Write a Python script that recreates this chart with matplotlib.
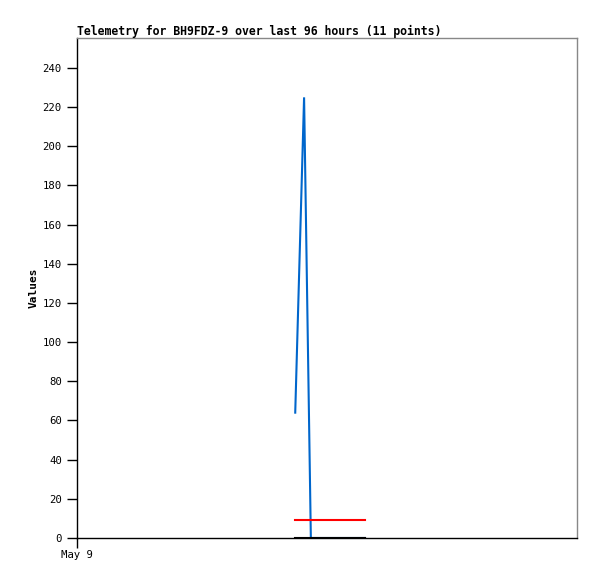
import matplotlib
matplotlib.use("Agg")
import matplotlib.pyplot as plt

# hours since May 9 00:00 (window is 96 hours)
hours = [41.9, 43.6, 44.9, 46.1, 47.3, 48.5, 49.7, 50.9, 52.1, 53.5, 55.3]
blue_vals = [64, 225, 0, 0, 0, 0, 0, 0, 0, 0, 0]
red_vals = [9, 9, 9, 9, 9, 9, 9, 9, 9, 9, 9]
black_vals = [0, 0, 0, 0, 0, 0, 0, 0, 0, 0, 0]

yticks = list(range(0, 241, 20))
xtick_pos = [0]
xtick_labels = ["May 9"]

mono = "DejaVu Sans Mono"

fig = plt.figure(figsize=(5.97, 5.79), dpi=100)
ax = fig.add_axes([77 / 597, 41 / 579, 500 / 597, 500 / 579])

ax.plot(hours, blue_vals, color="#0066cc", linewidth=1.5, solid_joinstyle="miter")
ax.plot(hours, red_vals, color="#ff0000", linewidth=1.5)
ax.plot(hours, black_vals, color="#000000", linewidth=1.5)

ax.set_xlim(0, 96)
ax.set_ylim(0, 255.3)

ax.set_yticks(yticks)
ax.set_yticklabels([str(v) for v in yticks], fontfamily=mono, fontsize=7.7)
ax.set_xticks(xtick_pos)
ax.set_xticklabels(xtick_labels, fontfamily=mono, fontsize=7.7)
ax.tick_params(axis="y", length=7, width=1, color="black", pad=4)
ax.tick_params(axis="x", length=7, width=1, color="black", pad=2)

for side in ("top", "right"):
    ax.spines[side].set_color("#888888")
    ax.spines[side].set_linewidth(1)
for side in ("left", "bottom"):
    ax.spines[side].set_color("black")
    ax.spines[side].set_linewidth(1)

ax.set_ylabel("Values", fontfamily=mono, fontsize=8, fontweight="bold", labelpad=3)
ax.set_title("Telemetry for BH9FDZ-9 over last 96 hours (11 points)",
             loc="left", fontfamily=mono, fontsize=8.3, fontweight="bold", pad=2)

fig.savefig("out.png", dpi=100)
